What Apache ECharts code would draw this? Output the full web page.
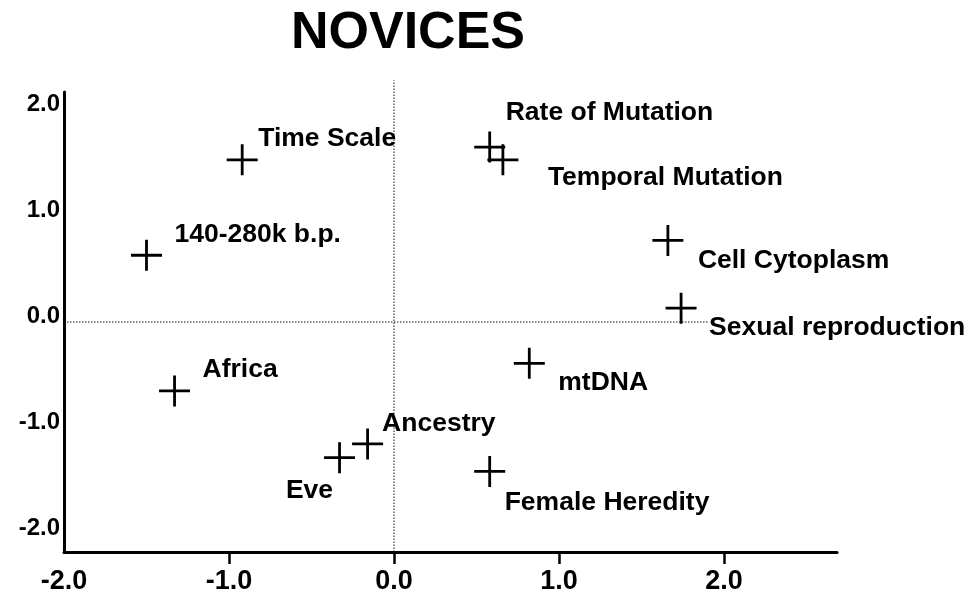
<!DOCTYPE html>
<html>
<head>
<meta charset="utf-8">
<script src="https://cdn.jsdelivr.net/npm/echarts@6/dist/echarts.min.js"></script>
<style>
  html, body { margin: 0; padding: 0; background: #fff; }
  #chart { width: 975px; height: 601px; }
</style>
</head>
<body>
<div id="chart"></div>
<script>
// ---- data ----
const names = ['Time Scale', '140-280k b.p.', 'Rate of Mutation', 'Temporal Mutation',
  'Cell Cytoplasm', 'Sexual reproduction', 'mtDNA', 'Africa', 'Ancestry', 'Eve', 'Female Heredity'];
const xValues = [-0.92, -1.50, 0.58, 0.66, 1.66, 1.74, 0.82, -1.33, -0.16, -0.33, 0.58];
const yValues = [1.53, 0.63, 1.65, 1.53, 0.77, 0.13, -0.39, -0.65, -1.15, -1.28, -1.41];
const xTickLabels = [-2, -1, 0, 1, 2];
const xTickMarks = [-1, 0, 1, 2];
const yTickLabels = [-2, -1, 0, 1, 2];

// ---- style: label placement per point (offset of text from the cross centre) ----
const labelPlace = {
  'Time Scale': [16, -21, 'left'],
  '140-280k b.p.': [28, -21, 'left'],
  'Rate of Mutation': [16, -34, 'left'],
  'Temporal Mutation': [45, 18, 'left'],
  'Cell Cytoplasm': [30, 20, 'left'],
  'Sexual reproduction': [28, 19, 'left'],
  'mtDNA': [29, 19, 'left'],
  'Africa': [28, -21, 'left'],
  'Ancestry': [14.5, -20.5, 'left'],
  'Eve': [-6.5, 33.5, 'right'],
  'Female Heredity': [15, 31.5, 'left']
};

const FONT = '"Liberation Sans", Arial, Helvetica, sans-serif';
const SYM = 31;
const half = SYM / 2;
const crossPath = 'path://M14.1,0h2.8v14.1h14.1v2.8h-14.1v14.1h-2.8v-14.1h-14.1v-2.8h14.1z';

const X_MIN = -2, X_MAX = 2.685, Y_MIN = -2.17, Y_MAX = 2.17;

const points = names.map((n, i) => {
  const p = labelPlace[n];
  return {
    name: n,
    value: [xValues[i], yValues[i]],
    label: { position: [half + p[0], half + p[1]], align: p[2] }
  };
});

const chart = echarts.init(document.getElementById('chart'), null, { renderer: 'canvas' });
chart.setOption({
  animation: false,
  backgroundColor: '#ffffff',
  title: {
    text: 'NOVICES',
    left: 408,
    top: 8,
    padding: 0,
    textAlign: 'center',
    textStyle: { fontFamily: FONT, fontWeight: 'bold', fontSize: 52, color: '#000' }
  },
  grid: { left: 64, right: 138, top: 92, bottom: 49, containLabel: false },
  xAxis: {
    type: 'value',
    min: X_MIN,
    max: X_MAX,
    splitNumber: 5,
    splitLine: { show: false },
    axisLine: { show: true, onZero: false, lineStyle: { color: '#000', width: 3 } },
    axisTick: { show: true, customValues: xTickMarks, length: 12, lineStyle: { color: '#000', width: 2.5 } },
    axisLabel: {
      customValues: xTickLabels,
      formatter: v => Number(v).toFixed(1),
      margin: 16,
      fontFamily: FONT, fontWeight: 'bold', fontSize: 27, color: '#000'
    }
  },
  yAxis: {
    type: 'value',
    min: Y_MIN,
    max: Y_MAX,
    splitNumber: 4,
    splitLine: { show: false },
    axisLine: { show: true, onZero: false, lineStyle: { color: '#000', width: 3 } },
    axisTick: { show: false },
    axisLabel: {
      customValues: yTickLabels,
      formatter: v => Number(v).toFixed(1),
      margin: 4,
      verticalAlign: 'bottom',
      lineHeight: 12,
      fontFamily: FONT, fontWeight: 'bold', fontSize: 24, color: '#000'
    }
  },
  series: [
    {
      type: 'line',
      data: [[0, Y_MIN], [0, 2.28]],
      symbol: 'none',
      clip: false,
      silent: true,
      lineStyle: { color: '#111', width: 1, type: [1.5, 1.5], opacity: 1 },
      z: 1
    },
    {
      type: 'line',
      data: [[X_MIN, 0], [1.91, 0]],
      symbol: 'none',
      clip: false,
      silent: true,
      lineStyle: { color: '#111', width: 1, type: [1.5, 1.5], opacity: 1 },
      z: 1
    },
    {
      type: 'scatter',
      symbol: crossPath,
      symbolSize: SYM,
      itemStyle: { color: '#000', opacity: 1 },
      data: points,
      label: {
        show: true,
        formatter: '{b}',
        verticalAlign: 'middle',
        opacity: 1,
        fontFamily: FONT, fontWeight: 'bold', fontSize: 26.5, color: '#000'
      },
      labelLayout: { hideOverlap: false },
      z: 3
    }
  ]
});
</script>
</body>
</html>
